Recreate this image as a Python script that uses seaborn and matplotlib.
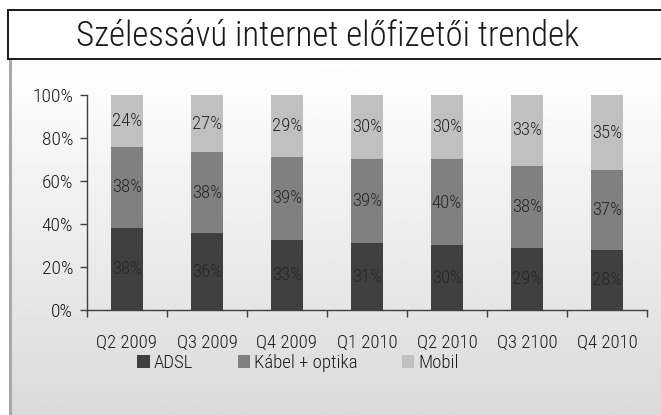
import matplotlib
matplotlib.use("Agg")
import matplotlib.pyplot as plt
import numpy as np
import pandas as pd
import seaborn as sns
from matplotlib.patches import Rectangle, Patch

sns.set_theme(style="white")
plt.rcParams["font.family"] = ["Roboto Condensed", "DejaVu Sans"]
plt.rcParams["font.weight"] = "light"

quarters = ["Q2 2009", "Q3 2009", "Q4 2009", "Q1 2010", "Q2 2010", "Q3 2100", "Q4 2010"]
adsl = [38, 36, 33, 31, 30, 29, 28]
kabel = [38, 38, 39, 39, 40, 38, 37]
mobil = [24, 27, 29, 30, 30, 33, 35]
series = ["ADSL", "Kábel + optika", "Mobil"]
colors = ["#404040", "#808080", "#c0c0c0"]

df = pd.DataFrame({"quarter": quarters, "ADSL": adsl, "Kábel + optika": kabel, "Mobil": mobil})
total = df[series].sum(axis=1)
shares = df[series].div(total, axis=0) * 100
tops = shares.cumsum(axis=1)

W, H = 661, 415
fig = plt.figure(figsize=(W / 100, H / 100), dpi=100)

# background: title box + gradient panel
bg = fig.add_axes([0, 0, 1, 1])
bg.set_xlim(0, W)
bg.set_ylim(H, 0)
bg.axis("off")
grad = np.linspace(1.0, 0.855, 256).reshape(-1, 1)
bg.imshow(grad, cmap="gray", vmin=0, vmax=1, extent=[10, W, H, 59], aspect="auto", zorder=0)
bg.plot([10, 10], [59, H], color="#a8a8a8", lw=2.2, zorder=2)
bg.add_patch(Rectangle((8, 10), W, 49, facecolor="white", edgecolor="#1a1a1a", lw=1.4, zorder=3))
bg.text(328, 36, "Szélessávú internet előfizetői trendek", ha="center", va="center",
        fontsize=25, color="#1a1a1a", zorder=4)

ax = fig.add_axes([87 / W, (H - 310) / H, (647 - 87) / W, (310 - 95) / H])
ax.patch.set_alpha(0)

for i in range(len(series) - 1, -1, -1):
    sns.barplot(x=df["quarter"], y=tops[series[i]], color=colors[i], width=0.4,
                saturation=1, linewidth=0, ax=ax, zorder=2)

for i, s in enumerate(series):
    bottoms = tops[s] - shares[s]
    for j, v in enumerate(df[s]):
        ax.text(j, bottoms[j] + shares[s][j] / 2, f"{v}%", ha="center", va="center",
                fontsize=13.5, color="#262626", zorder=5)

ax.set_xlim(-0.5, len(quarters) - 0.5)
ax.set_ylim(0, 100)
ax.set_yticks(range(0, 101, 20))
ax.set_yticklabels([f"{t}%" for t in range(0, 101, 20)])
ax.set_xlabel("")
ax.set_ylabel("")
ax.set_xticks(np.arange(-0.5, len(quarters), 1), minor=True)
ax.tick_params(axis="x", which="major", length=0, pad=17, labelsize=13.5, colors="#1a1a1a")
ax.tick_params(axis="x", which="minor", length=5, width=1, color="#404040", direction="out", bottom=True)
ax.tick_params(axis="y", length=5, width=1, color="#404040", direction="out", left=True,
               labelsize=14, labelcolor="#1a1a1a", pad=5)
for side in ["top", "right"]:
    ax.spines[side].set_visible(False)
for side in ["left", "bottom"]:
    ax.spines[side].set_color("#404040")
    ax.spines[side].set_linewidth(1)

handles = [Patch(facecolor=c, edgecolor="none") for c in colors]
fig.legend(handles, series, loc="center", bbox_to_anchor=(298 / W, (H - 363) / H), ncol=3,
           frameon=False, fontsize=13.5, handlelength=0.65, handleheight=0.65,
           handletextpad=0.2, columnspacing=2.4, labelcolor="#1a1a1a")

fig.savefig("out.png", dpi=100)
